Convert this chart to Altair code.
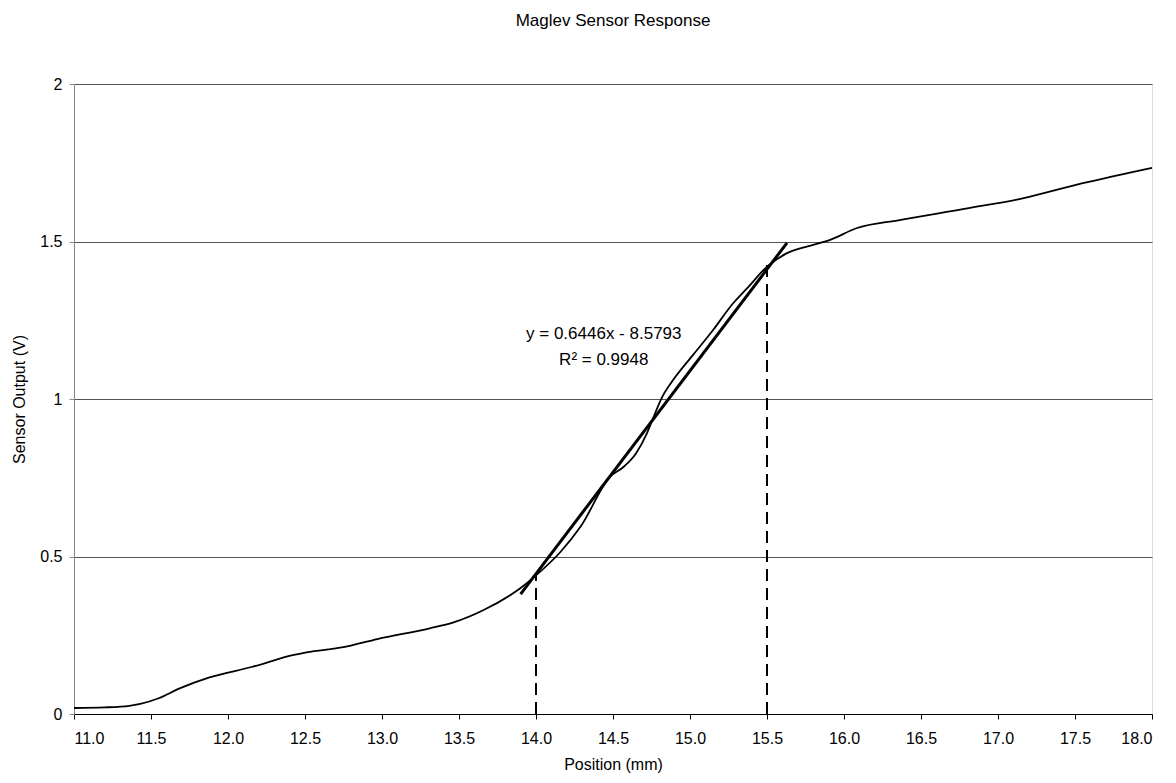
import altair as alt
import pandas as pd

# Measured sensor curve
pos = [11.0, 11.2, 11.36, 11.43, 11.55, 11.69, 11.88, 12.16, 12.42, 12.51, 12.75, 12.97,
       13.31, 13.46, 13.66, 13.90, 14.0, 14.16, 14.29, 14.48, 14.57, 14.65, 14.72, 14.76,
       14.82, 14.89, 15.02, 15.15, 15.28, 15.37, 15.50, 15.63, 15.80, 15.91, 16.08, 16.36,
       16.80, 17.16, 17.55, 18.0]
volt = [0.019, 0.021, 0.026, 0.032, 0.05, 0.082, 0.116, 0.15, 0.187, 0.196, 0.212, 0.238,
        0.272, 0.29, 0.33, 0.40, 0.44, 0.515, 0.595, 0.753, 0.785, 0.828, 0.891, 0.939,
        1.007, 1.06, 1.14, 1.219, 1.304, 1.351, 1.42, 1.463, 1.489, 1.505, 1.542, 1.568,
        1.605, 1.637, 1.685, 1.734]

# Linear fit
slope = 0.6446
intercept = -8.5793
fit_x = [13.9, 15.63]

# Dashed markers
mark_x = [14.0, 15.5]
mark_top = [0.44, 1.43]

ann_text = ["y = 0.6446x - 8.5793", "R² = 0.9948"]
ann_x = [14.44, 14.44]
ann_y = [1.205, 1.125]

x_ticks = [11 + 0.5 * i for i in range(15)]
y_ticks = [0, 0.5, 1, 1.5, 2]

FONT = "Liberation Sans"

curve_df = pd.DataFrame({"x": pos, "y": volt})
fit_df = pd.DataFrame({"x": fit_x, "y": [slope * v + intercept for v in fit_x]})
mark_df = pd.DataFrame({"x": mark_x, "y0": [0, 0], "y1": mark_top})
ann_df = pd.DataFrame({"x": ann_x, "y": ann_y, "t": ann_text})

xs = alt.Scale(domain=[11, 18], nice=False, zero=False)
ys = alt.Scale(domain=[0, 2], nice=False)

xaxis = alt.Axis(title="Position (mm)", values=x_ticks, format=".1f",
                 grid=False, tickColor="#000", domainColor="#000", tickSize=5,
                 labelFont=FONT, labelFontSize=16, labelColor="#000", labelPadding=11,
                 titleFont=FONT, titleFontSize=16, titleFontWeight="normal", titleColor="#000",
                 titlePadding=10)
yaxis = alt.Axis(title="Sensor Output (V)", values=y_ticks, labelExpr="'' + datum.value", grid=True,
                 gridColor="#555", gridWidth=1, tickColor="#888", domainColor="#888", tickSize=5,
                 labelFont=FONT, labelFontSize=16, labelColor="#000", labelPadding=7,
                 titleFont=FONT, titleFontSize=16, titleFontWeight="normal", titleColor="#000",
                 titlePadding=12)

curve = alt.Chart(curve_df).mark_line(color="#000", strokeWidth=1.8, interpolate="monotone").encode(
    x=alt.X("x:Q", scale=xs, axis=xaxis),
    y=alt.Y("y:Q", scale=ys, axis=yaxis),
)
fit = alt.Chart(fit_df).mark_line(color="#000", strokeWidth=3).encode(
    x=alt.X("x:Q", scale=xs), y=alt.Y("y:Q", scale=ys)
)
marks = alt.Chart(mark_df).mark_rule(color="#000", strokeWidth=2, strokeDash=[12, 7]).encode(
    x=alt.X("x:Q", scale=xs), y=alt.Y("y0:Q", scale=ys), y2="y1:Q"
)
ann = alt.Chart(ann_df).mark_text(font=FONT, fontSize=17, color="#000", align="center").encode(
    x=alt.X("x:Q", scale=xs), y=alt.Y("y:Q", scale=ys), text="t:N"
)

chart = alt.layer(curve, fit, marks, ann).properties(
    width=1078, height=630,
    title=alt.TitleParams("Maglev Sensor Response", font=FONT, fontSize=17, fontWeight="normal",
                          color="#000", anchor="middle", offset=46),
    autosize=alt.AutoSizeParams(type="none"),
    padding={"left": 74, "top": 84, "right": 24, "bottom": 69},
).configure_view(stroke=None).configure(background="white")

chart.save("out.html", embed_options={"renderer": "svg", "actions": False})
